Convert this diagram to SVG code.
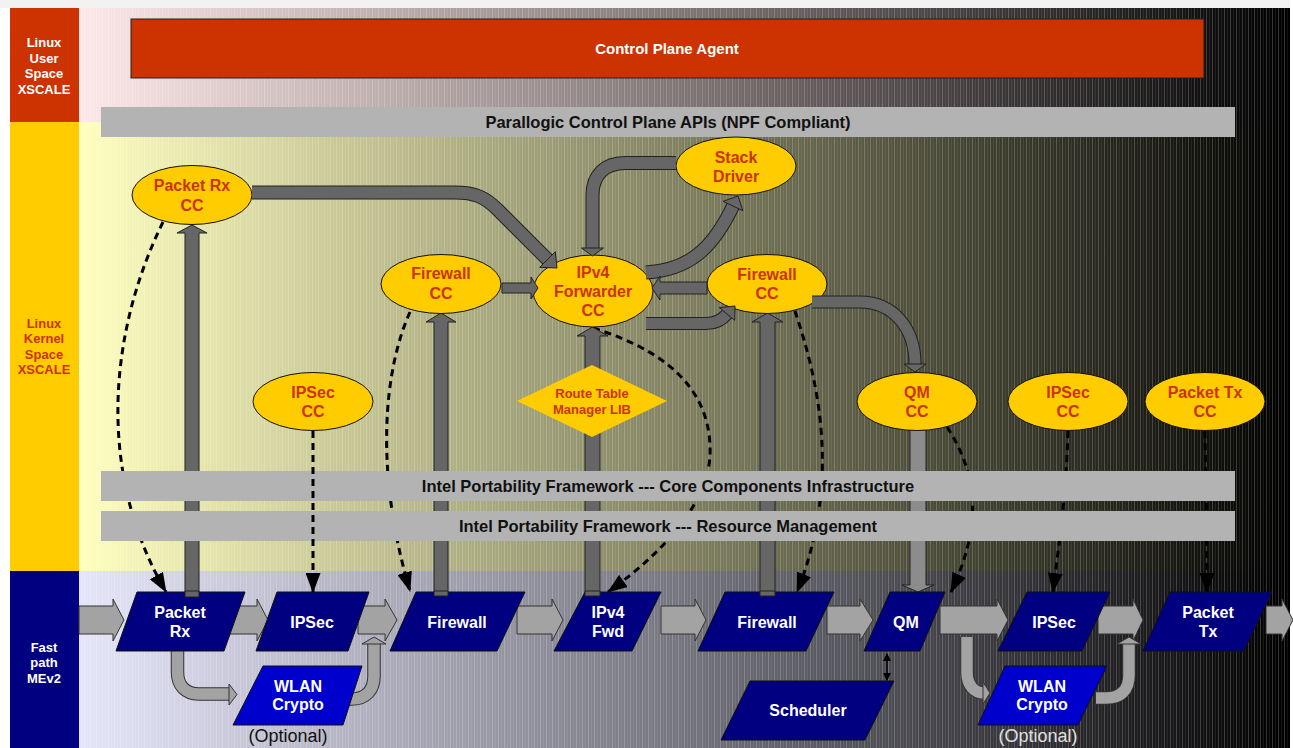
<svg xmlns="http://www.w3.org/2000/svg" width="1293" height="748" viewBox="0 0 1293 748">
<defs>
<linearGradient id="gTop" x1="79" y1="0" x2="1290" y2="0" gradientUnits="userSpaceOnUse"><stop offset="0" stop-color="#fde8e8"/><stop offset="1" stop-color="#000"/></linearGradient>
<linearGradient id="gMid" x1="79" y1="0" x2="1290" y2="0" gradientUnits="userSpaceOnUse"><stop offset="0" stop-color="#ffffc0"/><stop offset="1" stop-color="#000"/></linearGradient>
<linearGradient id="gBot" x1="79" y1="0" x2="1290" y2="0" gradientUnits="userSpaceOnUse"><stop offset="0" stop-color="#e6e6fa"/><stop offset="1" stop-color="#000"/></linearGradient>
<pattern id="stripes" x="0" y="0" width="6" height="10" patternUnits="userSpaceOnUse"><rect x="0" y="0" width="1" height="10" fill="#fff" fill-opacity="0.2"/><rect x="3" y="0" width="1" height="10" fill="#fff" fill-opacity="0.08"/></pattern>
<marker id="dh" viewBox="0 0 20 15" refX="19" refY="7.5" markerWidth="20" markerHeight="15" markerUnits="userSpaceOnUse" orient="auto"><path d="M0,0 L20,7.5 L0,15 Z" fill="#000"/></marker>
<marker id="sh" viewBox="0 0 8 8" refX="7" refY="4" markerWidth="8" markerHeight="8" markerUnits="userSpaceOnUse" orient="auto-start-reverse"><path d="M0,0 L8,4 L0,8 Z" fill="#000"/></marker>
<style>
.t{font-family:"Liberation Sans",Arial,sans-serif;font-weight:bold;text-anchor:middle}
.lab{font-size:13px}
.cc{fill:#ffcc00;stroke:#111;stroke-width:1}
.cct{font-size:16px;fill:#cc3300}
.fp{fill:#000080;stroke:#111;stroke-width:1}
.fpw{fill:#0000cc;stroke:#111;stroke-width:1}
.fpt{font-size:16px;fill:#fff}
.bar{fill:#b3b3b3}
.bart{font-size:16.5px;fill:#111}
.lg{fill:#a3a3a3;stroke:#333;stroke-width:1}
.lgo{fill:none;stroke:#333;stroke-width:13.5}
.lgi{fill:none;stroke:#a3a3a3;stroke-width:11.5}
.dg{fill:#666;stroke:#222;stroke-width:1}
.dgo{fill:none;stroke:#222;stroke-width:14}
.dgi{fill:none;stroke:#666;stroke-width:12}
.dash{fill:none;stroke:#000;stroke-width:3;stroke-dasharray:7 5;marker-end:url(#dh)}
.opt{font-family:"Liberation Sans",Arial,sans-serif;font-size:18px;text-anchor:middle}
</style>
</defs>

<g id="background">
<rect x="0" y="0" width="1293" height="748" fill="#fff"/>
<rect x="0" y="0" width="1290" height="8" fill="#f2f2f2"/>
<rect x="79" y="8" width="1211" height="114" fill="url(#gTop)"/>
<rect x="79" y="122" width="1211" height="449" fill="url(#gMid)"/>
<rect x="79" y="571" width="1211" height="177" fill="url(#gBot)"/>
<rect x="79" y="8" width="1211" height="740" fill="url(#stripes)"/>
</g>

<g id="band-user">
<rect x="10" y="8" width="69" height="114" fill="#cc3300"/>
<text class="t lab" fill="#fff"><tspan x="44" y="47">Linux</tspan><tspan x="44" y="62.5">User</tspan><tspan x="44" y="78">Space</tspan><tspan x="44" y="93.5">XSCALE</tspan></text>
</g>
<g id="band-kernel">
<rect x="10" y="122" width="69" height="449" fill="#ffcc00"/>
<text class="t lab" fill="#cc3300"><tspan x="44" y="327.5">Linux</tspan><tspan x="44" y="343">Kernel</tspan><tspan x="44" y="358.5">Space</tspan><tspan x="44" y="374">XSCALE</tspan></text>
</g>
<g id="band-fastpath">
<rect x="10" y="571" width="69" height="177" fill="#000080"/>
<text class="t lab" fill="#fff"><tspan x="44" y="651.5">Fast</tspan><tspan x="44" y="667">path</tspan><tspan x="44" y="682.5">MEv2</tspan></text>
</g>

<g id="control-plane-agent">
<rect x="131" y="19" width="1073" height="59" fill="#cc3300" stroke="#222" stroke-width="1"/>
<text class="t" x="667" y="54" font-size="15" fill="#fff">Control Plane Agent</text>
</g>
<g id="parallogic-apis">
<rect class="bar" x="101" y="107" width="1134" height="30"/>
<text class="t bart" x="668" y="128">Parallogic Control Plane APIs (NPF Compliant)</text>
</g>

<g id="connectors-under">
<path class="dash" d="M163,222 C110,330 95,470 166,592"/>
<path class="dash" d="M410,312 C384,370 374,470 410,591"/>
<path class="dash" d="M593,328 C680,355 712,400 710,455 C708,505 660,555 608,592"/>
<path class="dash" d="M795,311 C818,380 842,480 797,592"/>
<path class="dash" d="M947,427 C975,470 985,520 951,592"/>
<path class="dash" d="M1068,431 C1066,500 1058,550 1053,592"/>
<path class="dash" d="M1205,431 C1206,500 1207,550 1207,592"/>
<path class="dg" d="M185,595 V233 H177 L192,225 L207,233 H199 V595 Z"/>
<path class="dg" d="M434,594 V322 H426 L441,313 L456,322 H448 V594 Z"/>
<path class="dg" d="M585,594 V336 H577 L592.5,327 L608,336 H600 V594 Z"/>
<path class="dg" d="M760,594 V322 H752 L767.5,313 L783,322 H775 V594 Z"/>
<path d="M910,430 V585 H902 L918,592 L934,585 H926 V430 Z" fill="#8c8c8c" stroke="#222" stroke-width="1"/>
</g>

<g id="ipf-cci">
<rect class="bar" x="101" y="471" width="1134" height="30"/>
<text class="t bart" x="668" y="492">Intel Portability Framework --- Core Components Infrastructure</text>
</g>
<g id="ipf-rm">
<rect class="bar" x="101" y="511" width="1134" height="30"/>
<text class="t bart" x="668" y="532">Intel Portability Framework --- Resource Management</text>
</g>

<g id="connectors-fastpath">
<path class="lg" d="M79,606 H113 V599 L124,620 L113,641 V634 H79 Z"/>
<path class="lg" d="M229,606 H257 V599 L268,620 L257,641 V634 H229 Z"/>
<path class="lg" d="M358,606 H385 V599 L397,620 L385,641 V634 H358 Z"/>
<path class="lg" d="M517,606 H552 V599 L563,620 L552,641 V634 H517 Z"/>
<path class="lg" d="M661,606 H695 V599 L706,620 L695,641 V634 H661 Z"/>
<path class="lg" d="M827,606 H860 V599 L873,620 L860,641 V634 H827 Z"/>
<path class="lg" d="M940,606 H997 V599 L1008,620 L997,641 V634 H940 Z"/>
<path class="lg" d="M1098,606 H1133 V599 L1143,620 L1133,641 V634 H1098 Z"/>
<path class="lg" d="M1266,606 H1282 V599 L1293,620 L1282,641 V634 H1266 Z"/>
<path class="lgo" d="M177.5,648 V672 C177.5,685 185,694 199,694 H230"/>
<path class="lgi" d="M177.5,648 V672 C177.5,685 185,694 199,694 H230"/>
<path class="lg" d="M229,684 L237,694.5 L229,705 Z"/>
<path class="lgo" d="M345,699 H352 C366,699 374,690 374,676 V644"/>
<path class="lgi" d="M345,699 H352 C366,699 374,690 374,676 V644"/>
<path class="lg" d="M362,644 L374,637 L386,644 Z"/>
<path class="lgo" d="M967,637 V672 C967,685 974,693 984,693"/>
<path class="lgi" d="M967,637 V672 C967,685 974,693 984,693"/>
<path class="lg" d="M983,682 L990,693 L983,704 Z"/>
<path class="lgo" d="M1096,698 H1106 C1121,698 1129,690 1129,675 V644"/>
<path class="lgi" d="M1096,698 H1106 C1121,698 1129,690 1129,675 V644"/>
<path class="lg" d="M1117,644 L1129,637 L1141,644 Z"/>
</g>

<g id="packet-rx-cc"><ellipse class="cc" cx="192" cy="195" rx="60" ry="29.5"/><text class="t cct"><tspan x="192" y="191">Packet Rx</tspan><tspan x="192" y="211">CC</tspan></text></g>
<g id="firewall-cc-1"><ellipse class="cc" cx="441" cy="284" rx="60" ry="29.5"/><text class="t cct"><tspan x="441" y="279">Firewall</tspan><tspan x="441" y="299">CC</tspan></text></g>
<g id="ipv4-forwarder-cc"><ellipse class="cc" cx="593" cy="291" rx="60" ry="36"/><text class="t cct"><tspan x="593" y="278">IPv4</tspan><tspan x="593" y="297">Forwarder</tspan><tspan x="593" y="316">CC</tspan></text></g>
<g id="stack-driver"><ellipse class="cc" cx="736" cy="166" rx="60" ry="29"/><text class="t cct"><tspan x="736" y="163">Stack</tspan><tspan x="736" y="181.5">Driver</tspan></text></g>
<g id="firewall-cc-2"><ellipse class="cc" cx="767" cy="284" rx="60" ry="29.5"/><text class="t cct"><tspan x="767" y="280">Firewall</tspan><tspan x="767" y="299">CC</tspan></text></g>
<g id="qm-cc"><ellipse class="cc" cx="917" cy="401.5" rx="60" ry="29"/><text class="t cct"><tspan x="917" y="398">QM</tspan><tspan x="917" y="417">CC</tspan></text></g>
<g id="ipsec-cc-1"><ellipse class="cc" cx="313" cy="401.5" rx="60" ry="29"/><text class="t cct"><tspan x="313" y="398">IPSec</tspan><tspan x="313" y="417">CC</tspan></text></g>
<g id="ipsec-cc-2"><ellipse class="cc" cx="1068" cy="401.5" rx="60" ry="29"/><text class="t cct"><tspan x="1068" y="398">IPSec</tspan><tspan x="1068" y="416.5">CC</tspan></text></g>
<g id="packet-tx-cc"><ellipse class="cc" cx="1205" cy="401.5" rx="60" ry="29"/><text class="t cct"><tspan x="1205" y="398">Packet Tx</tspan><tspan x="1205" y="416.5">CC</tspan></text></g>

<g id="packet-rx"><path class="fp" d="M137,592 H245 L224,651 H116 Z"/><text class="t fpt"><tspan x="180" y="618">Packet</tspan><tspan x="180" y="637">Rx</tspan></text></g>
<g id="ipsec-1"><path class="fp" d="M277,592 H369 L348,651 H256 Z"/><text class="t fpt" x="312" y="628">IPSec</text></g>
<g id="wlan-crypto-1"><path class="fpw" d="M263,666 H362 L343,725 H233 Z"/><text class="t fpt"><tspan x="298" y="692">WLAN</tspan><tspan x="298" y="710">Crypto</tspan></text></g>
<g id="firewall-1"><path class="fp" d="M416,592 H525 L497,651 H390 Z"/><text class="t fpt" x="457" y="628">Firewall</text></g>
<g id="ipv4-fwd"><path class="fp" d="M585,592 H661 L632,651 H554 Z"/><text class="t fpt"><tspan x="608" y="618">IPv4</tspan><tspan x="608" y="637">Fwd</tspan></text></g>
<g id="firewall-2"><path class="fp" d="M725,592 H834 L806,651 H698 Z"/><text class="t fpt" x="767" y="628">Firewall</text></g>
<g id="qm"><path class="fp" d="M890,592 H945 L920,651 H864 Z"/><text class="t fpt" x="906" y="628">QM</text></g>
<g id="scheduler"><path class="fp" d="M750,681 H894 L865,740 H721 Z"/><text class="t fpt" x="808" y="716">Scheduler</text></g>
<g id="ipsec-2"><path class="fp" d="M1027,592 H1110 L1082,651 H998 Z"/><text class="t fpt" x="1054" y="628">IPSec</text></g>
<g id="wlan-crypto-2"><path class="fpw" d="M1005,666 H1107 L1078,725 H978 Z"/><text class="t fpt"><tspan x="1042" y="692">WLAN</tspan><tspan x="1042" y="710">Crypto</tspan></text></g>
<g id="packet-tx"><path class="fp" d="M1170,592 H1272 L1244,651 H1143 Z"/><text class="t fpt"><tspan x="1208" y="618">Packet</tspan><tspan x="1208" y="637">Tx</tspan></text></g>

<g id="optional-labels">
<text class="opt" x="288" y="742" fill="#111">(Optional)</text>
<text class="opt" x="1038" y="742" fill="#e0e0e0">(Optional)</text>
</g>

<g id="connectors">
<path class="dg" d="M185,591 V597 H199 V591 Z" stroke="none"/>
<path class="dg" d="M434,591 V596 H448 V591 Z" stroke="none"/>
<path class="dg" d="M585,591 V596 H600 V591 Z" stroke="none"/>
<path class="dg" d="M760,591 V596 H775 V591 Z" stroke="none"/>
<path class="dash" d="M313,431 V592"/>
<path class="dgo" d="M252,192.5 H455 C475,192.5 485,197 498,210 L548,260"/>
<path class="dgi" d="M252,192.5 H455 C475,192.5 485,197 498,210 L548,260"/>
<path class="dg" d="M555.3,251.7 L557,268 L539.7,267.3 Z"/>
<path class="dgo" d="M676,163 H625 C605,163 592.5,175 592.5,195 V248"/>
<path class="dgi" d="M676,163 H625 C605,163 592.5,175 592.5,195 V248"/>
<path class="dg" d="M581.5,248 L603.5,248 L592.5,256 Z"/>
<path class="dgo" d="M646,272.5 C688,270 712,250 733,206"/>
<path class="dgi" d="M646,272.5 C688,270 712,250 733,206"/>
<path class="dg" d="M742.9,210.7 L738,196 L723.1,201.3 Z"/>
<path class="dg" d="M502,283 H531 V277 L538,288 L531,299 V293 H502 Z"/>
<path class="dg" d="M707,282 H660 V276 L652,288 L660,300 V294 H707 Z"/>
<path class="dgo" style="stroke-width:13" d="M646,323.5 H706 C716,323.5 722,320 727,314"/>
<path class="dgi" style="stroke-width:11" d="M646,323.5 H706 C716,323.5 722,320 727,314"/>
<path class="dg" d="M734.7,320.4 L735,306 L719.3,307.6 Z"/>
<path class="dgo" style="stroke-width:13" d="M812,302 H860 C893,302 915,328 915,364"/>
<path class="dgi" style="stroke-width:11" d="M812,302 H860 C893,302 915,328 915,364"/>
<path class="dg" d="M904,364 L926,364 L915,372 Z"/>
<line x1="887" y1="654" x2="887" y2="680" stroke="#000" stroke-width="1.5" marker-start="url(#sh)" marker-end="url(#sh)"/>
</g>

<g id="route-table-manager-lib">
<path d="M592,365 L667,401 L592,437 L517,401 Z" fill="#ffcc00"/>
<text class="t" font-size="13" fill="#cc3300"><tspan x="592" y="397.5">Route Table</tspan><tspan x="592" y="413.5">Manager LIB</tspan></text>
</g>
</svg>
